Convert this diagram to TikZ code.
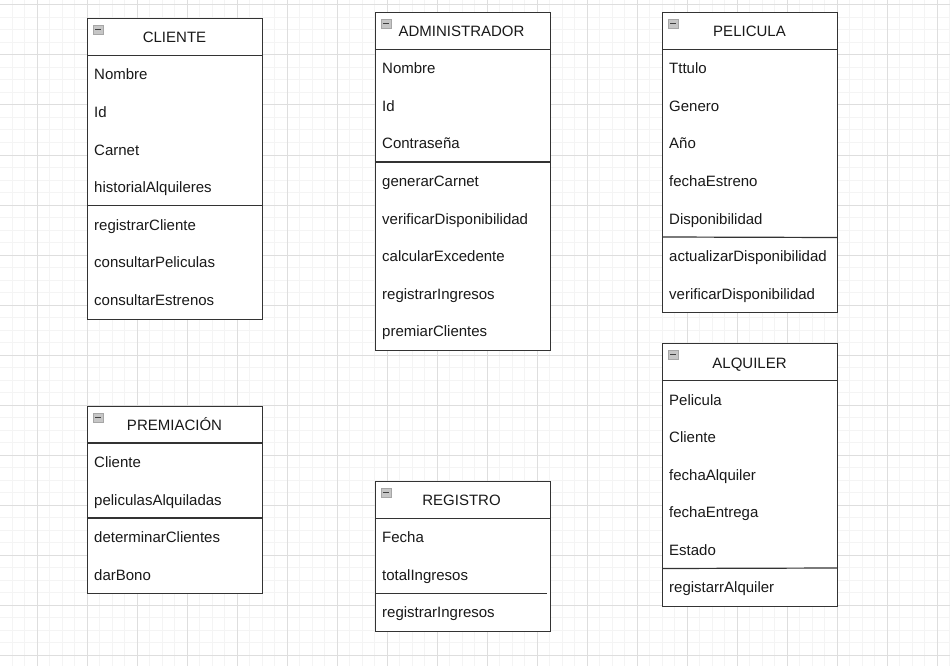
\documentclass[tikz,border=0pt]{standalone}
\usepackage{fontspec}
\setmainfont{Liberation Sans}
\definecolor{gridminor}{HTML}{F4F4F4}
\definecolor{gridmajor}{HTML}{DEDEDE}
\definecolor{umlline}{HTML}{333333}

\begin{document}
\begin{tikzpicture}[
		x=1pt, y=-1pt,
		font=\fontsize{15}{18}\selectfont,
		minorgrid/.style={draw=gridminor, line width=1pt},
		majorgrid/.style={draw=gridmajor, line width=1pt},
		classbox/.style={draw=umlline, line width=1.2pt, fill=white, anchor=north west, minimum width=175pt, inner sep=0pt},
		title/.style={text=black!90, inner sep=0pt, text height=11pt, text depth=3pt, yshift=-2pt},
		item/.style={text=black!90, anchor=west, inner sep=0pt, text height=11pt, text depth=3pt, yshift=-1.5pt},
		minusicon/.style={draw=gray!70, fill=gray!45, anchor=north west, minimum width=10pt, minimum height=9pt, inner sep=0pt},
		minusbar/.style={draw=black!75, line width=1.4pt},
		sep/.style={draw=umlline, line width=1.2pt},
	]
		\fill[white] (0,0) rectangle (950,666);
		\useasboundingbox (0,0) rectangle (950,666);
		
		% grid
		\foreach \k in {0,...,76}
			\draw[minorgrid] (-0.5+12.5*\k,0) -- (-0.5+12.5*\k,666);
		\foreach \k in {0,...,53}
			\draw[minorgrid] (0,5+12.5*\k) -- (950,5+12.5*\k);
		\foreach \k in {0,...,18}
			\draw[majorgrid] (37+50*\k,0) -- (37+50*\k,666);
		\foreach \k in {0,...,13}
			\draw[majorgrid] (0,5+50*\k) -- (950,5+50*\k);
		
		% CLIENTE
		\node[classbox, minimum height=300.5pt] (cliente) at (87,18) {};
		\node[minusicon] (cliente-icon) at (93,25) {};
		\draw[minusbar] ([xshift=2pt]cliente-icon.west) -- ([xshift=-2pt]cliente-icon.east);
		\node[title] (cliente-title) at (174.5,37) {CLIENTE};
		\foreach \t [count=\i] in {Nombre,Id,Carnet,historialAlquileres,registrarCliente,consultarPeliculas,consultarEstrenos}
			\node[item] (cliente-\i) at (94,37+37.5*\i) {\t};
		\draw[sep] (87,55.5) -- (262,55.5);
		\draw[sep] (87,205.5) -- (262,205.5);
		
		% ADMINISTRADOR
		\node[classbox, minimum height=337.5pt] (admin) at (375,12) {};
		\node[minusicon] (admin-icon) at (381,19) {};
		\draw[minusbar] ([xshift=2pt]admin-icon.west) -- ([xshift=-2pt]admin-icon.east);
		\node[title] (admin-title) at (461.5,31) {ADMINISTRADOR};
		\foreach \t [count=\i] in {Nombre,Id,Contraseña,generarCarnet,verificarDisponibilidad,calcularExcedente,registrarIngresos,premiarClientes}
			\node[item] (admin-\i) at (382,31+37.5*\i) {\t};
		\draw[sep] (375,49.5) -- (550,49.5);
		\draw[sep] (375,162) -- (550,162);
		
		% PELICULA
		\node[classbox, minimum height=300pt] (pelicula) at (662,12) {};
		\node[minusicon] (pelicula-icon) at (668,19) {};
		\draw[minusbar] ([xshift=2pt]pelicula-icon.west) -- ([xshift=-2pt]pelicula-icon.east);
		\node[title] (pelicula-title) at (749.5,31) {PELICULA};
		\foreach \t [count=\i] in {Tttulo,Genero,Año,fechaEstreno,Disponibilidad,actualizarDisponibilidad,verificarDisponibilidad}
			\node[item] (pelicula-\i) at (669,31+37.5*\i) {\t};
		\draw[sep] (662,49.5) -- (837,49.5);
		\draw[sep] (662,237) -- (837,237.5);
		
		% ALQUILER
		\node[classbox, minimum height=262.5pt] (alquiler) at (662,343) {};
		\node[minusicon] (alquiler-icon) at (668,350) {};
		\draw[minusbar] ([xshift=2pt]alquiler-icon.west) -- ([xshift=-2pt]alquiler-icon.east);
		\node[title] (alquiler-title) at (749.5,362) {ALQUILER};
		\foreach \t [count=\i] in {Pelicula,Cliente,fechaAlquiler,fechaEntrega,Estado,registarrAlquiler}
			\node[item] (alquiler-\i) at (669,362+37.5*\i) {\t};
		\draw[sep] (662,380.5) -- (837,380.5);
		\draw[sep] (662,568.5) -- (837,568);
		
		% PREMIACION
		\node[classbox, minimum height=187.5pt] (premiacion) at (87,405.5) {};
		\node[minusicon] (premiacion-icon) at (93,412.5) {};
		\draw[minusbar] ([xshift=2pt]premiacion-icon.west) -- ([xshift=-2pt]premiacion-icon.east);
		\node[title] (premiacion-title) at (174.5,424.5) {PREMIACIÓN};
		\foreach \t [count=\i] in {Cliente,peliculasAlquiladas,determinarClientes,darBono}
			\node[item] (premiacion-\i) at (94,424.5+37.5*\i) {\t};
		\draw[sep] (87,443) -- (262,443);
		\draw[sep] (87,518) -- (262,518);
		
		% REGISTRO
		\node[classbox, minimum height=150pt] (registro) at (375,481) {};
		\node[minusicon] (registro-icon) at (381,488) {};
		\draw[minusbar] ([xshift=2pt]registro-icon.west) -- ([xshift=-2pt]registro-icon.east);
		\node[title] (registro-title) at (461.5,499.5) {REGISTRO};
		\foreach \t [count=\i] in {Fecha,totalIngresos,registrarIngresos}
			\node[item] (registro-\i) at (382,499.5+37.5*\i) {\t};
		\draw[sep] (375,518.5) -- (550,518.5);
		\draw[sep] (375,593.5) -- (547,593.5);
	\end{tikzpicture}
\end{document}
